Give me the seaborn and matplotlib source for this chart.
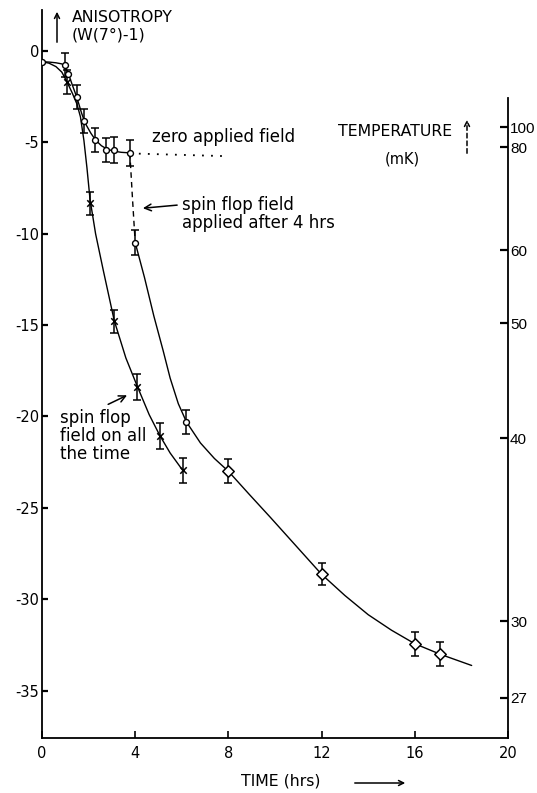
import numpy as np
import pandas as pd
import matplotlib
matplotlib.use("Agg")
import matplotlib.pyplot as plt
import seaborn as sns

# ---------------- data ----------------
# zero applied field (open circles, first 4 hrs)
zero_t = [1.0, 1.1, 1.49, 1.8, 2.27, 2.75, 3.08, 3.77]
zero_a = [-0.77, -1.25, -2.5, -3.82, -4.87, -5.42, -5.4, -5.57]
zero_err = [0.65, np.nan, 0.65, 0.65, 0.65, 0.65, 0.7, 0.7]

# spin flop field applied after 4 hrs (open symbols)
after_t = [4.0, 6.2]
after_a = [-10.48, -20.3]
after_err = [0.7, 0.65]
late_t = [8.0, 12.0, 16.0, 17.1]
late_a = [-23.0, -28.64, -32.44, -33.02]
late_err = [0.65, 0.6, 0.65, 0.65]

# spin flop field on all the time (crosses)
on_t = [1.06, 2.06, 3.1, 4.09, 5.06, 6.04]
on_a = [-1.68, -8.34, -14.8, -18.38, -21.08, -22.95]
on_err = [0.65, 0.65, 0.65, 0.7, 0.7, 0.7]

start_t = [0.0]
start_a = [-0.58]

# hand-drawn curves, vertices
curve_zero_t = [0, 0.3, 0.6, 0.85, 1.0, 1.15, 1.3, 1.5, 1.7, 1.8, 1.9, 2.1, 2.3,
                2.55, 2.8, 3.1, 3.4, 3.77]
curve_zero_a = [-0.58, -0.6, -0.64, -0.7, -0.85, -1.3, -1.85, -2.55, -3.4, -3.75,
                -4.05, -4.5, -4.87, -5.18, -5.37, -5.48, -5.54, -5.57]

curve_on_t = [0, 0.3, 0.6, 0.85, 1.06, 1.3, 1.5, 1.65, 1.8, 1.93, 2.06, 2.3, 2.63,
              3.1, 3.6, 4.09, 4.6, 5.06, 5.5, 6.04]
curve_on_a = [-0.58, -0.66, -0.85, -1.15, -1.65, -2.3, -2.9, -3.6, -4.9, -6.4,
              -8.1, -10.0, -12.0, -14.75, -16.8, -18.35, -19.9, -21.05, -22.0, -22.95]

curve_jump_t = [3.77, 3.88, 4.0]
curve_jump_a = [-5.57, -8.0, -10.48]

curve_after_t = [4.0, 4.4, 4.8, 5.2, 5.5, 5.85, 6.2, 6.8, 7.4, 8.0, 8.9, 9.8, 10.9,
                 12.0, 13.0, 14.0, 15.0, 16.0, 17.1, 18.44]
curve_after_a = [-10.48, -12.4, -14.5, -16.4, -17.9, -19.3, -20.3, -21.45, -22.3,
                 -23.0, -24.27, -25.52, -27.08, -28.64, -29.8, -30.85, -31.7,
                 -32.44, -33.02, -33.63]

dotted_t = [3.77, 7.9]
dotted_a = [-5.6, -5.75]

x_ticks = [0, 4, 8, 12, 16, 20]
y_ticks = [0, -5, -10, -15, -20, -25, -30, -35]
temp_labels = ["100", "80", "60", "50", "40", "30", "27"]
temp_pos = [-4.16, -5.26, -10.9, -14.9, -21.2, -31.2, -35.4]

# ---------------- figure ----------------
sns.set_theme(style="ticks")
plt.rcParams["font.family"] = ["DejaVu Sans"]
plt.rcParams["axes.unicode_minus"] = False
for key in ["text.color", "axes.labelcolor", "xtick.color", "ytick.color",
            "axes.edgecolor"]:
    plt.rcParams[key] = "black"

W, H = 537, 793
fig = plt.figure(figsize=(W / 100, H / 100), dpi=100)
ax = fig.add_axes([42 / W, 1 - 738 / H, (508 - 42) / W, (738 - 10) / H])
ax.set_xlim(0, 20)
ax.set_ylim(-37.6, 2.25)

lw = 1.0
k = "black"

def line(t, a, **kw):
    sns.lineplot(x=t, y=a, ax=ax, sort=False, estimator=None, color=k,
                 linewidth=kw.pop("linewidth", lw), legend=False, **kw)

line(curve_zero_t, curve_zero_a)
line(curve_on_t, curve_on_a)
line(curve_after_t, curve_after_a)
line(curve_jump_t, curve_jump_a, linestyle=(0, (4, 3)))
line(dotted_t, dotted_a, linestyle=(0, (1, 4)), linewidth=1.3)

# error bars
eb = dict(fmt="none", ecolor=k, elinewidth=1.1, capsize=3.2, capthick=1.1, zorder=3)
ax.errorbar(zero_t, zero_a, yerr=zero_err, **eb)
ax.errorbar(after_t, after_a, yerr=after_err, **eb)
ax.errorbar(late_t, late_a, yerr=late_err, **eb)
ax.errorbar(on_t, on_a, yerr=on_err, **eb)

# markers
sns.scatterplot(x=zero_t + after_t + start_t, y=zero_a + after_a + start_a, ax=ax,
                marker="o", s=18, facecolor="white", edgecolor=k, linewidth=1.0,
                zorder=4, legend=False)
sns.scatterplot(x=late_t, y=late_a, ax=ax, marker="D", s=34, facecolor="white",
                edgecolor=k, linewidth=1.1, zorder=4, legend=False)
sns.scatterplot(x=on_t, y=on_a, ax=ax, marker="x", s=22, color=k, linewidth=1.1,
                zorder=4, legend=False)

# axes styling
ax.set_xticks(x_ticks)
ax.set_yticks(y_ticks)
ax.tick_params(axis="x", direction="in", length=5, width=1.2, pad=6)
ax.tick_params(axis="y", direction="in", length=4, width=1.6, pad=2)
ax.set_xticklabels([str(v) for v in x_ticks], fontsize=10.5)
ax.set_yticklabels([str(v) for v in y_ticks], fontsize=10.5)
for s in ["left", "bottom"]:
    ax.spines[s].set_linewidth(1.3)
ax.spines["top"].set_visible(False)
ax.spines["right"].set_visible(False)
ax.set_xlabel("")
ax.set_ylabel("")

ax2 = ax.twinx()
ax2.set_ylim(ax.get_ylim())
ax2.set_yticks(temp_pos)
ax2.tick_params(axis="y", direction="in", length=6, width=1.6, pad=1.5)
ax2.set_yticklabels(temp_labels, fontsize=11,
                    fontfamily=["Liberation Sans", "DejaVu Sans"])
ax2.spines["right"].set_bounds(-37.6, -2.57)
ax2.spines["right"].set_linewidth(1.3)
for s in ["left", "top", "bottom"]:
    ax2.spines[s].set_visible(False)

fs_low = 12
fs_cap = 11.3

def fx(px):
    return px / W

def fy(py):
    return 1 - py / H

def farrow(p0, p1, **kw):
    fig.add_artist(matplotlib.patches.FancyArrowPatch(
        (fx(p0[0]), fy(p0[1])), (fx(p1[0]), fy(p1[1])),
        transform=fig.transFigure, arrowstyle="->", mutation_scale=9,
        linewidth=1.1, color=k, **kw))

# text annotations
fig.text(fx(72), fy(17), "ANISOTROPY", fontsize=fs_cap, va="center", ha="left")
fig.text(fx(72), fy(35), "(W(7°)-1)", fontsize=fs_cap, va="center", ha="left")
farrow((57, 45), (57, 9))

ax.text(4.72, -4.71, "zero applied field", fontsize=fs_low, va="center", ha="left")
ax.annotate("spin flop field\napplied after 4 hrs", xy=(4.33, -8.6),
            xytext=(6.0, -8.9), fontsize=fs_low, va="center", ha="left",
            linespacing=1.0,
            arrowprops=dict(arrowstyle="->", lw=1.1, color=k,
                            shrinkA=1, shrinkB=0, relpos=(0, 0.75)))
ax.annotate("spin flop\nfield on all\nthe time", xy=(3.65, -18.84),
            xytext=(0.77, -21.06), fontsize=fs_low, va="center", ha="left",
            linespacing=1.0,
            arrowprops=dict(arrowstyle="->", lw=1.1, color=k,
                            shrinkA=2, shrinkB=0, relpos=(0.45, 1.0)))

fig.text(fx(395), fy(132), "TEMPERATURE", fontsize=fs_cap, va="center", ha="center")
fig.text(fx(402), fy(159), "(mK)", fontsize=10.5, va="center", ha="center")
farrow((467, 156), (467, 117), linestyle=(0, (3, 2)))

fig.text(fx(281), fy(781), "TIME (hrs)", fontsize=fs_cap, va="center", ha="center")
farrow((352, 783), (408, 783))

fig.savefig("out.png", dpi=100, facecolor="white")
